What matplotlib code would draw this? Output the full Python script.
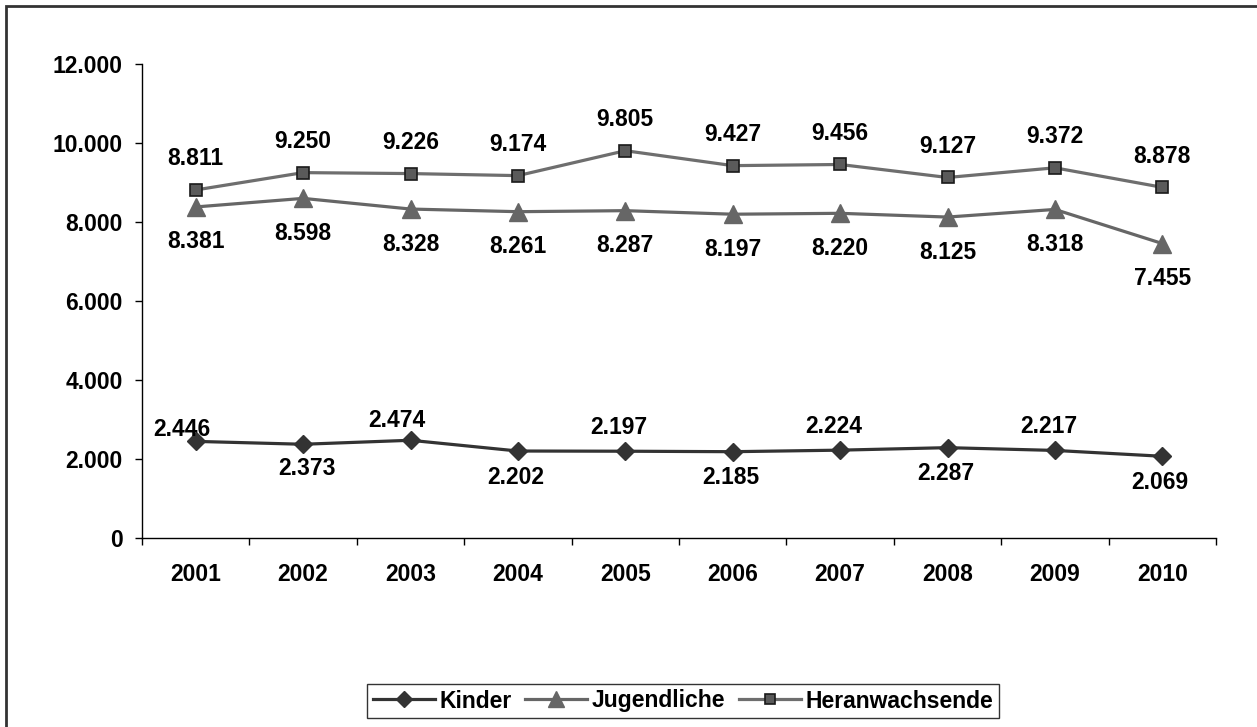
import matplotlib
matplotlib.use("Agg")
import matplotlib.pyplot as plt
from matplotlib.patches import Rectangle
from matplotlib.ticker import FuncFormatter, FixedLocator

# yearly counts per age group
years = ["2001", "2002", "2003", "2004", "2005", "2006", "2007", "2008", "2009", "2010"]
kinder = [2446, 2373, 2474, 2202, 2197, 2185, 2224, 2287, 2217, 2069]
jugendliche = [8381, 8598, 8328, 8261, 8287, 8197, 8220, 8125, 8318, 7455]
heranwachsende = [8811, 9250, 9226, 9174, 9805, 9427, 9456, 9127, 9372, 8878]


def fmt(v):
    return f"{v:,.0f}".replace(",", ".")


W, H = 1257, 727
fig = plt.figure(figsize=(W / 100, H / 100), dpi=100)
ax = fig.add_axes([142 / W, 1 - 538 / H, (1216 - 142) / W, (538 - 64) / H])

x = list(range(len(years)))
font = "Liberation Sans"

l1, = ax.plot(x, kinder, color="#333333", lw=2.3, marker="D", ms=9,
              mfc="#333333", mec="#333333", label="Kinder", clip_on=False)
l2, = ax.plot(x, jugendliche, color="#666666", lw=2.3, marker="^", ms=13,
              mfc="#666666", mec="#666666", label="Jugendliche", clip_on=False)
l3, = ax.plot(x, heranwachsende, color="#6e6e6e", lw=2.3, marker="s", ms=9,
              mfc="#5a5a5a", mec="#1a1a1a", mew=1.2, label="Heranwachsende",
              clip_on=False)

lab = dict(ha="center", va="center", fontsize=16.5, fontweight="bold",
           family=font, textcoords="offset pixels")
for i, v in enumerate(heranwachsende):
    ax.annotate(fmt(v), (i, v), xytext=(0, 31), **lab)
for i, v in enumerate(jugendliche):
    ax.annotate(fmt(v), (i, v), xytext=(0, -35), **lab)
# Kinder labels alternate above / below the line
k_off = [(-14, 12), (4, -24), (-14, 20), (-2, -26), (-6, 24),
         (-2, -26), (-6, 24), (-2, -26), (-6, 24), (-2, -26)]
for i, (v, off) in enumerate(zip(kinder, k_off)):
    ax.annotate(fmt(v), (i, v), xytext=off, **lab)

ax.set_xlim(-0.5, len(years) - 0.5)
ax.set_ylim(0, 12000)
ax.set_yticks(range(0, 12001, 2000))
ax.yaxis.set_major_formatter(FuncFormatter(lambda v, p: fmt(v)))
ax.set_xticks(x)
ax.set_xticklabels(years)
ax.xaxis.set_minor_locator(FixedLocator([i - 0.5 for i in range(len(years) + 1)]))
ax.tick_params(axis="x", which="major", length=0, pad=18)
ax.tick_params(axis="x", which="minor", length=5, width=1, direction="out")
ax.tick_params(axis="y", length=5, width=1, direction="out", pad=9)
for t in ax.get_xticklabels() + ax.get_yticklabels():
    t.set_fontsize(16.5)
    t.set_fontweight("bold")
    t.set_family(font)

for s in ["top", "right"]:
    ax.spines[s].set_visible(False)
for s in ["left", "bottom"]:
    ax.spines[s].set_linewidth(1)
    ax.spines[s].set_color("black")

leg = fig.legend(handles=[l1, l2, l3], loc="center",
                 bbox_to_anchor=(683 / W, 1 - 701 / H), ncol=3,
                 prop={"family": font, "weight": "bold", "size": 16.5},
                 frameon=True, fancybox=False, edgecolor="black",
                 handlelength=2.7, handletextpad=0.2, columnspacing=0.6,
                 borderpad=0.25, markerscale=0.85)
leg.get_frame().set_linewidth(1)

# outer chart frame
fig.patches.append(Rectangle((6 / W, -0.1), 1.2, 1 - 6 / H + 0.1,
                             transform=fig.transFigure, fill=False,
                             edgecolor="#333333", lw=2.0))

fig.savefig("out.png", dpi=100)
